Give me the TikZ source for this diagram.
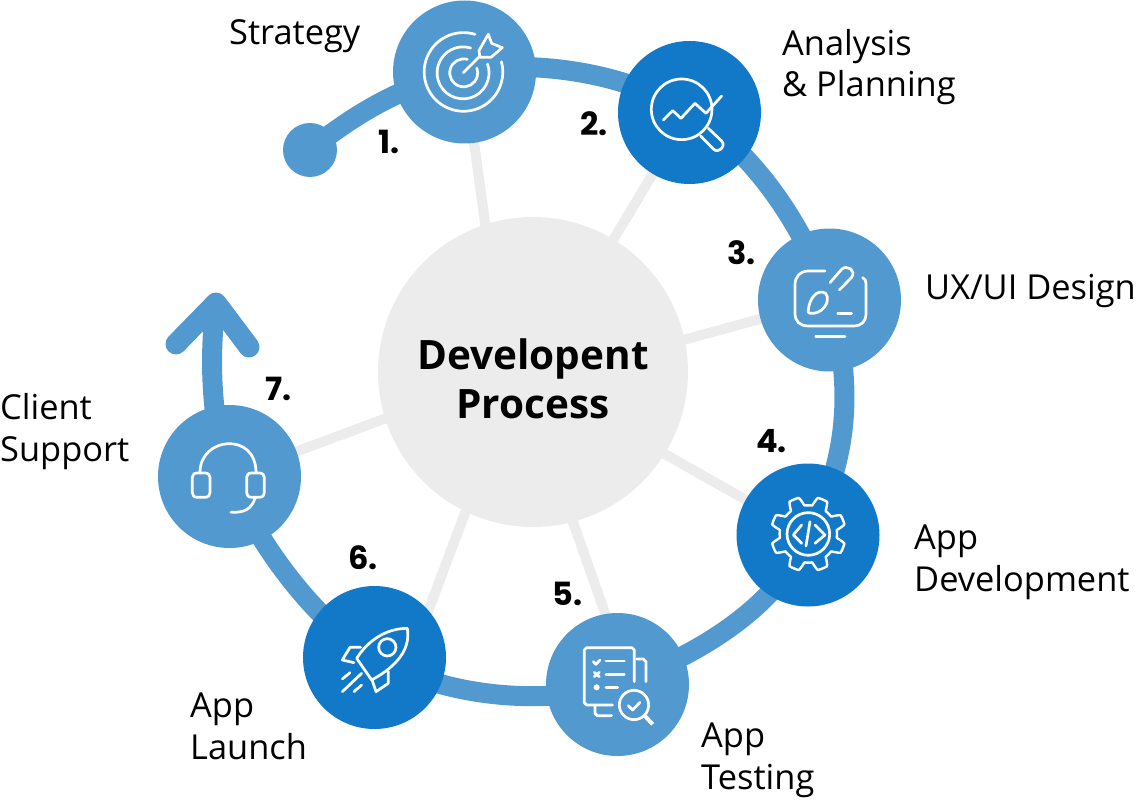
\documentclass[tikz,border=0pt]{standalone}
\usepackage{fontspec}
\setmainfont{Open Sans}
\newfontfamily\numf{Poppins}
\usetikzlibrary{backgrounds}
\definecolor{lblue}{HTML}{5299D0}
\definecolor{dblue}{HTML}{1279C8}
\definecolor{hubgrey}{HTML}{ECECEC}
\tikzset{
  lightc/.style={circle,fill=lblue,minimum size=143pt,inner sep=0pt},
  darkc/.style={circle,fill=dblue,minimum size=143pt,inner sep=0pt},
  ring/.style={draw=lblue,line width=20pt},
  spoke/.style={draw=hubgrey,line width=10pt},
  lab/.style={anchor=base west,inner sep=0pt,font=\fontsize{34.4}{41.5}\selectfont,text=black},
  num/.style={anchor=base west,inner sep=0pt,font=\fontsize{32}{32}\selectfont\numf\bfseries,text=black},
  ic/.style={draw=white,line width=2.7pt,line cap=round,line join=round},
  zoomA/.style={shift={(380,0)},x=.3333pt,y=-.3333pt},
  zoomB/.style={shift={(730,220)},x=.3333pt,y=-.3333pt},
  zoomC/.style={shift={(290,570)},x=.3333pt,y=-.3333pt},
  zoomD/.style={shift={(150,280)},x=.3333pt,y=-.3333pt},
}
\begin{document}
\begin{tikzpicture}[x=1pt,y=-1pt]
\useasboundingbox (0,0) rectangle (1140,805);
% nodes
\node[circle,fill=hubgrey,minimum size=310pt,inner sep=0pt] (hub) at (533,372) {};
\node[anchor=base,inner sep=0pt,align=center,font=\fontsize{40.5}{49}\selectfont\bfseries] (hubtext) at (533,418) {Developent\\Process};
\node[circle,fill=lblue,minimum size=54pt,inner sep=0pt] (dot) at (310,150) {};
\node[lightc] (c1) at (464.5,72) {};
\node[darkc]  (c2) at (689.5,112.5) {};
\node[lightc] (c3) at (829.5,300) {};
\node[darkc]  (c4) at (808,535) {};
\node[lightc] (c5) at (617.5,684.5) {};
\node[darkc]  (c6) at (374.5,657.5) {};
\node[lightc] (c7) at (229.5,476.5) {};
\coordinate (tip) at (216,303);
\coordinate (headL) at (176,344);
\coordinate (headR) at (249,347);
\begin{pgfonlayer}{background}
  % spokes
  \coordinate (s1) at (490,260);
  \coordinate (s2) at (600,262);
  \coordinate (s3) at (665,345);
  \coordinate (s4) at (640,440);
  \coordinate (s5) at (567,505);
  \coordinate (s6) at (468,505);
  \coordinate (s7) at (400,413);
  \coordinate (e5) at (630,684);
  \coordinate (e6) at (411,657);
  \draw[spoke] (s1) -- (c1.center);
  \draw[spoke] (s2) -- (c2.center);
  \draw[spoke] (s3) -- (c3.center);
  \draw[spoke] (s4) -- (c4.center);
  \draw[spoke] (s5) -- (e5);
  \draw[spoke] (s6) -- (e6);
  \draw[spoke] (s7) -- (c7.center);
  % ring
  \draw[ring] (dot.center) .. controls (350,118) and (400,85) .. (c1.center);
  \draw[ring] (c1.center) .. controls (520,60) and (620,68) .. (c2.center);
  \draw[ring] (c2.center) .. controls (745,145) and (800,215) .. (c3.center);
  \draw[ring] (c3.center) .. controls (850,370) and (855,450) .. (c4.center);
  \draw[ring] (c4.center) .. controls (780,605) and (700,655) .. (c5.center);
  \draw[ring] (c5.center) .. controls (550,705) and (450,700) .. (c6.center);
  \draw[ring] (c6.center) .. controls (320,625) and (260,550) .. (c7.center);
  \draw[ring] (c7.center) .. controls (212,430) and (208,360) .. (tip);
  \draw[draw=lblue,line width=21pt,line cap=round,line join=round] (headL) -- (tip) -- (headR);
\end{pgfonlayer}
% target icon
\begin{scope}[zoomA]
  \draw[ic] (285,103) arc[start angle=-73,end angle=-375,radius=118];
  \draw[ic] (272,144) arc[start angle=-73,end angle=-380,radius=78];
  \draw[ic] (262,178) arc[start angle=-75,end angle=-380,radius=42];
  \draw[ic] (250,218) -- (300,168);
  \draw[ic] (297,152) -- (325,103) -- (335,130) -- (367,143) -- (333,172) -- (300,172) -- cycle;
  % magnifier
  \draw[ic] (905,328) circle[radius=91];
  \draw[ic] (962,408) -- (1000,447) .. controls (1015,462) and (1040,440) .. (1025,423) -- (985,385);
  \draw[ic] (850,360) -- (878,332) -- (903,355) -- (945,310) -- (978,340) -- (1025,288);
\end{scope}
% design icon
\begin{scope}[zoomB]
  \draw[ic] (285,153) -- (235,153) .. controls (210,153) and (195,170) .. (195,195) -- (195,280) .. controls (195,305) and (210,318) .. (235,318) -- (370,318) .. controls (395,318) and (408,305) .. (408,280) -- (408,190) .. controls (408,182) and (405,176) .. (398,173);
  \draw[ic] (257,350) -- (345,350);
  \draw[ic] (300,188) -- (335,148) .. controls (350,133) and (380,150) .. (365,172) -- (328,210);
  \draw[ic] (235,270) .. controls (238,235) and (262,205) .. (287,220) .. controls (305,245) and (275,285) .. (240,280) .. controls (235,279) and (233,275) .. (235,270) -- cycle;
  \draw[ic] (323,280) -- (365,280);
  % gear icon
  \draw[ic,line width=2.4pt] plot[domain=0:360,samples=289,smooth] ({235+cos(\x)*(99-13*min(1,max(-1,2.2*cos(8*\x))))},{942-sin(\x)*(99-13*min(1,max(-1,2.2*cos(8*\x))))}) -- cycle;
  \draw[ic] (235,942) circle[radius=64];
  \draw[ic] (215,915) -- (190,945) -- (215,970);
  \draw[ic] (255,915) -- (285,945) -- (255,970);
  \draw[ic] (240,905) -- (228,978);
\end{scope}
% rocket and testing icons
\begin{scope}[zoomC]
  \draw[ic] (352,175) .. controls (290,175) and (235,210) .. (200,265) -- (245,330) .. controls (300,300) and (365,250) .. (352,175) -- cycle;
  \draw[ic] (292,232) circle[radius=26];
  \draw[ic] (212,232) -- (180,232) -- (157,270) -- (192,278);
  \draw[ic] (295,305) -- (295,340) -- (258,365) -- (247,332);
  \draw[ic] (157,327) -- (180,308);
  \draw[ic] (157,365) -- (215,310);
  \draw[ic] (192,365) -- (215,345);
  \draw[ic] (968,405) -- (890,405) -- (883,398) -- (883,240) -- (890,233) -- (1026,233) -- (1033,240) -- (1033,335);
  \draw[ic] (1040,267) -- (1060,267) -- (1068,275) -- (1068,335);
  \draw[ic] (915,405) -- (915,430) -- (922,437) -- (965,437);
  \draw[ic] (910,275) -- (918,283) -- (930,270);
  \draw[ic] (948,273) -- (1003,273);
  \draw[ic] (913,307) -- (928,320) (928,307) -- (913,320);
  \draw[ic] (948,313) -- (1003,313);
  \fill[white] (920,352) circle[radius=9];
  \draw[ic] (948,352) -- (983,352);
  \draw[ic] (1032,405) circle[radius=44];
  \draw[ic] (1015,407) -- (1028,420) -- (1050,397);
  \draw[ic,line width=4pt,line cap=butt] (1065,438) -- (1088,463);
\end{scope}
% headset icon
\begin{scope}[zoomD]
  \draw[ic] (150,577) .. controls (150,470) and (318,455) .. (318,577);
  \draw[ic] (142,579) -- (165,579) .. controls (175,579) and (180,585) .. (180,592) -- (180,638) .. controls (180,646) and (175,652) .. (165,652) -- (142,652) .. controls (132,652) and (127,646) .. (127,638) -- (127,592) .. controls (127,585) and (132,579) .. (142,579) -- cycle;
  \draw[ic] (305,579) -- (328,579) .. controls (338,579) and (343,585) .. (343,592) -- (343,638) .. controls (343,646) and (338,652) .. (328,652) -- (305,652) .. controls (295,652) and (290,646) .. (290,638) -- (290,592) .. controls (290,585) and (295,579) .. (305,579) -- cycle;
  \draw[ic] (316,652) .. controls (305,690) and (280,698) .. (243,697);
\end{scope}
% labels (a node of several lines has its base on the last line)
\node[lab] (tstrategy) at (229,45) {Strategy};
\node[lab,align=left] (tanalysis) at (782,97) {Analysis\\\& Planning};
\node[lab] (tux) at (925,299) {UX/UI Design};
\node[lab,align=left] (tdev) at (914,591) {App\\Development};
\node[lab,align=left] (ttest) at (701,789) {App\\Testing};
\node[lab,align=left] (tlaunch) at (190,759) {App\\Launch};
\node[lab,align=left] (tclient) at (0,461) {Client\\Support};
\node[num] (n1) at (378,154) {1.};
\node[num] (n2) at (580,136) {2.};
\node[num] (n3) at (727,264) {3.};
\node[num] (n4) at (756,452) {4.};
\node[num] (n5) at (552,605) {5.};
\node[num] (n6) at (348,569) {6.};
\node[num] (n7) at (265,400) {7.};
\end{tikzpicture}
\end{document}
